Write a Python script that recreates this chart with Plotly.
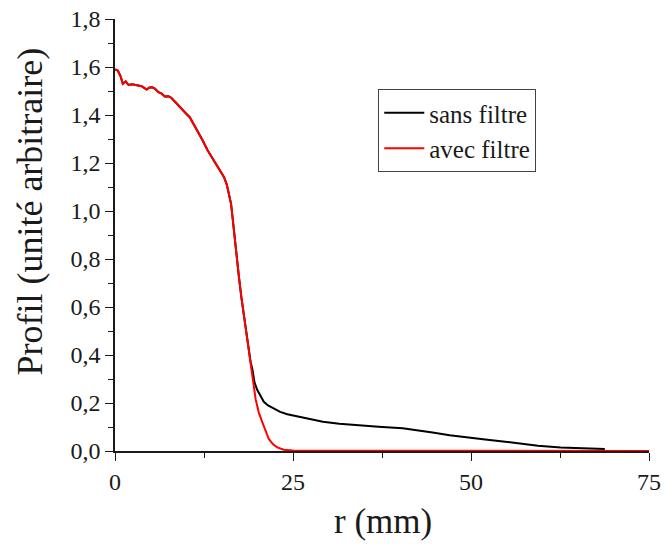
import plotly.graph_objects as go

# avec filtre (red)
r_avec = [0, 0.4, 0.8, 1.1, 1.5, 1.9, 2.4, 2.8, 3.3, 3.75, 4.1, 4.45, 4.8, 5.15, 5.6,
          6.1, 6.5, 7.0, 7.5, 7.9, 8.6, 9.3, 10.0, 10.5, 11.0, 11.6, 12.3, 13.0, 13.6,
          14.2, 14.8, 15.3, 15.7, 16.0, 16.3, 16.5, 16.75, 16.97, 17.2, 17.4, 17.75,
          18.1, 18.45, 18.8, 19.05, 19.3, 19.75, 20.2, 20.7, 21.2, 21.6, 22.2, 22.8,
          23.7, 25, 50, 75]
profil_avec = [1.59, 1.585, 1.56, 1.53, 1.54, 1.525, 1.528, 1.525, 1.522, 1.52, 1.513,
               1.506, 1.514, 1.516, 1.51, 1.495, 1.49, 1.477, 1.478, 1.472, 1.45, 1.426,
               1.405, 1.391, 1.365, 1.336, 1.295, 1.253, 1.225, 1.198, 1.17, 1.142, 1.11,
               1.073, 1.03, 0.976, 0.9, 0.838, 0.78, 0.727, 0.64, 0.561, 0.49, 0.423,
               0.37, 0.312, 0.216, 0.16, 0.119, 0.08, 0.05, 0.028, 0.015, 0.005, 0.002,
               0.001, 0.0]

# sans filtre (black)
r_sans = [0, 0.4, 0.8, 1.1, 1.5, 1.9, 2.4, 2.8, 3.3, 3.75, 4.1, 4.45, 4.8, 5.15, 5.6,
          6.1, 6.5, 7.0, 7.5, 7.9, 8.6, 9.3, 10.0, 10.5, 11.0, 11.6, 12.3, 13.0, 13.6,
          14.2, 14.8, 15.3, 15.7, 16.0, 16.3, 16.5, 16.75, 16.97, 17.2, 17.4, 17.75,
          18.1, 18.45, 18.8, 19.05, 19.3, 19.6, 19.97, 20.4, 20.9, 21.5, 22.3, 23.2,
          24.2, 25.1, 26.0, 27.5, 29.2, 31.5, 33.9, 37.0, 40.4, 42.5, 44.6, 47.0, 49.2,
          52.0, 54.8, 57.0, 59.4, 62.6, 65.4, 68.8]
profil_sans = [1.59, 1.585, 1.56, 1.53, 1.54, 1.525, 1.528, 1.525, 1.522, 1.52, 1.513,
               1.506, 1.514, 1.516, 1.51, 1.495, 1.49, 1.477, 1.478, 1.472, 1.45, 1.426,
               1.405, 1.391, 1.365, 1.336, 1.295, 1.253, 1.225, 1.198, 1.17, 1.142, 1.11,
               1.073, 1.03, 0.976, 0.9, 0.838, 0.78, 0.727, 0.64, 0.561, 0.49, 0.423,
               0.37, 0.34, 0.285, 0.255, 0.23, 0.205, 0.19, 0.176, 0.163, 0.153, 0.147,
               0.142, 0.132, 0.122, 0.114, 0.108, 0.101, 0.095, 0.087, 0.077, 0.066,
               0.057, 0.048, 0.039, 0.03, 0.022, 0.015, 0.011, 0.008]

x_ticks = [0, 25, 50, 75]
y_ticks = [0.0, 0.2, 0.4, 0.6, 0.8, 1.0, 1.2, 1.4, 1.6, 1.8]

FONT = "Liberation Serif"
INK = "#1a1a1a"

# Figure fills the whole window (body margin removed in post_script).
W, H = 665, 544
PL, PR, PT, PB = 114.5, 649, 19, 451   # plot area in pixels


def px_to_paper(px, py):
    return (px - PL) / (PR - PL), (PB - py) / (PB - PT)


fig = go.Figure()
fig.add_trace(go.Scatter(x=r_sans, y=profil_sans, mode="lines", name="sans filtre",
                         line=dict(color="black", width=2)))
fig.add_trace(go.Scatter(x=r_avec, y=profil_avec, mode="lines", name="avec filtre",
                         line=dict(color="#ff0000", width=2)))

axis_common = dict(showline=True, linecolor=INK, linewidth=1.5, ticks="outside",
                   ticklen=8, tickwidth=1.3, tickcolor=INK, showgrid=False,
                   zeroline=False, mirror=False, automargin=False,
                   ticklabeloverflow="allow",
                   tickfont=dict(family=FONT, size=24, color=INK))

fig.update_xaxes(range=[0, 75], tickvals=x_ticks, ticktext=[str(v) for v in x_ticks],
                 minor=dict(dtick=12.5, ticks="outside", ticklen=5, tickcolor=INK,
                            tickwidth=1.3, showgrid=False),
                 **axis_common)
fig.update_yaxes(range=[0, 1.8], tickvals=y_ticks,
                 ticktext=[f"{v:.1f}".replace(".", ",") for v in y_ticks],
                 minor=dict(dtick=0.1, tick0=0, ticks="outside", ticklen=5, tickcolor=INK,
                            tickwidth=1.3, showgrid=False),
                 **axis_common)

lx, ly = px_to_paper(378, 89)
ytx, yty = px_to_paper(29, 212)
xtx, xty = px_to_paper(382.5, 521)

fig.update_layout(
    width=W, height=H,
    margin=dict(l=PL, r=W - PR, t=PT, b=H - PB, autoexpand=False),
    plot_bgcolor="white", paper_bgcolor="white",
    font=dict(family=FONT, color=INK),
    showlegend=True,
    legend=dict(x=lx, y=ly, xanchor="left", yanchor="top",
                bordercolor="#444444", borderwidth=1, bgcolor="white",
                font=dict(family=FONT, size=25, color=INK),
                tracegroupgap=0, itemwidth=40),
    annotations=[
        dict(text="Profil (unité arbitraire)", textangle=-90, x=ytx, y=yty,
             xref="paper", yref="paper", showarrow=False, xanchor="center", yanchor="middle",
             font=dict(family=FONT, size=36, color=INK)),
        dict(text="r (mm)", x=xtx, y=xty, xref="paper", yref="paper",
             showarrow=False, xanchor="center", yanchor="middle",
             font=dict(family=FONT, size=35, color=INK)),
    ],
)

fig.write_html("out.html",
               config={"displayModeBar": False},
               post_script="document.body.style.margin='0';"
                           "document.body.style.overflow='hidden';")
